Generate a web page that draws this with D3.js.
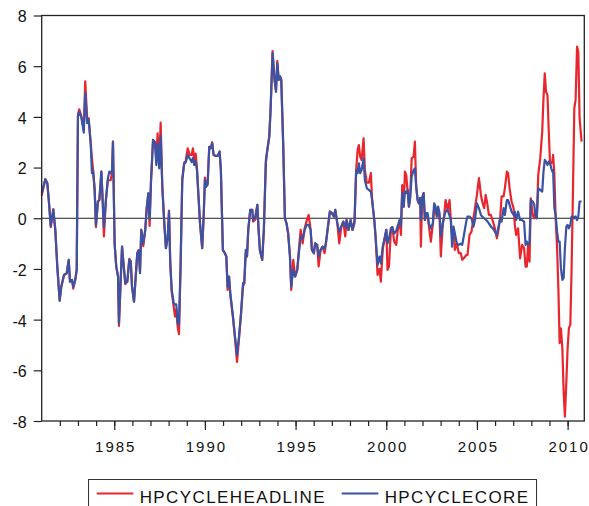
<!DOCTYPE html>
<html>
<head>
<meta charset="utf-8">
<script src="https://cdn.jsdelivr.net/npm/d3@7"></script>
<style>
  body { margin: 0; background: #fff; }
  svg { display: block; font-family: "Liberation Sans", Arial, sans-serif; }
</style>
</head>
<body>
<div id="chart"></div>
<script>
// Values: [year, value]
var headline = [
  [1981.00, 0.90], [1981.20, 1.54], [1981.31, 1.38], [1981.39, 0.72], [1981.50, -0.35], [1981.64, 0.36],
  [1981.75, -0.46], [1981.86, -1.91], [1981.99, -3.25], [1982.08, -2.70], [1982.23, -2.24], [1982.38, -2.17],
  [1982.49, -1.64], [1982.56, -2.50], [1982.67, -2.43], [1982.74, -2.78], [1982.85, -2.43], [1982.93, -2.04],
  [1983.00, 4.10], [1983.07, 4.30], [1983.18, 4.05], [1983.32, 3.50], [1983.40, 5.40], [1983.51, 3.90],
  [1983.59, 3.95], [1983.70, 3.00], [1983.77, 2.37], [1983.84, 1.85], [1983.92, 1.12], [1983.99, -0.35],
  [1984.10, 0.66], [1984.18, 0.72], [1984.29, 1.84], [1984.36, 0.72], [1984.43, -0.72], [1984.54, 0.72],
  [1984.65, 1.50], [1984.73, 1.50], [1984.80, 1.50], [1984.88, 1.80], [1984.93, 3.02], [1985.02, -0.99],
  [1985.11, -1.91], [1985.21, -2.30], [1985.26, -4.25], [1985.43, -1.12], [1985.50, -1.70], [1985.61, -2.60],
  [1985.72, -2.50], [1985.83, -1.60], [1985.91, -1.70], [1985.98, -2.70], [1986.09, -3.29], [1986.16, -2.56],
  [1986.27, -1.38], [1986.35, -1.26], [1986.42, -2.10], [1986.49, -0.46], [1986.60, -1.10], [1986.71, -0.46],
  [1986.79, 0.40], [1986.88, 0.98], [1986.95, -0.30], [1987.03, 1.51], [1987.14, 3.09], [1987.25, 3.00],
  [1987.32, 2.30], [1987.39, 3.35], [1987.48, 2.10], [1987.56, 3.77], [1987.65, 1.25], [1987.76, -0.20],
  [1987.85, -1.18], [1987.95, -0.75], [1988.02, 0.30], [1988.09, -1.78], [1988.17, -2.90], [1988.28, -3.50],
  [1988.35, -3.88], [1988.42, -3.60], [1988.50, -4.30], [1988.57, -4.57], [1988.66, -1.90], [1988.75, 1.51],
  [1988.86, 2.20], [1988.94, 2.25], [1989.05, 2.76], [1989.16, 2.50], [1989.27, 2.50], [1989.34, 2.76],
  [1989.41, 2.30], [1989.49, 2.55], [1989.56, 2.00], [1989.73, -0.20], [1989.85, -1.18], [1989.93, 0.06],
  [1990.00, 1.60], [1990.07, 1.25], [1990.15, 1.40], [1990.24, 2.82], [1990.32, 2.76], [1990.40, 3.00],
  [1990.48, 2.50], [1990.59, 2.46], [1990.70, 2.46], [1990.81, 2.63], [1990.88, 1.90], [1990.99, -1.25],
  [1991.10, -1.38], [1991.18, -1.51], [1991.25, -2.83], [1991.33, -2.30], [1991.40, -3.00], [1991.55, -3.95],
  [1991.66, -4.75], [1991.77, -5.67], [1991.88, -4.75], [1991.99, -3.80], [1992.10, -2.70], [1992.17, -2.56],
  [1992.25, -1.40], [1992.32, -1.51], [1992.39, -0.46], [1992.50, 0.33], [1992.61, 0.33], [1992.66, -0.13],
  [1992.78, -0.05], [1992.89, 0.53], [1992.96, -0.46], [1993.03, -1.25], [1993.16, -1.64], [1993.25, -0.46],
  [1993.36, 2.30], [1993.44, 2.69], [1993.55, 3.22], [1993.62, 4.27], [1993.73, 6.60], [1993.84, 5.46],
  [1993.92, 5.05], [1993.99, 6.20], [1994.07, 5.46], [1994.14, 5.60], [1994.21, 5.46], [1994.32, 2.83],
  [1994.41, 0.00], [1994.50, -0.20], [1994.59, -0.60], [1994.69, -1.51], [1994.76, -2.83], [1994.87, -1.64],
  [1994.98, -2.30], [1995.09, -2.04], [1995.20, -1.10], [1995.28, -0.46], [1995.39, -0.99], [1995.50, -0.40],
  [1995.61, -0.10], [1995.72, 0.13], [1995.83, -0.46], [1995.90, -1.25], [1996.01, -1.38], [1996.08, -0.99],
  [1996.19, -1.05], [1996.27, -1.90], [1996.38, -1.25], [1996.49, -1.12], [1996.60, -1.38], [1996.67, -0.99],
  [1996.74, -0.59], [1996.89, 0.26], [1997.00, 0.20], [1997.11, 0.07], [1997.19, 0.33], [1997.30, -0.20],
  [1997.41, -0.99], [1997.52, -0.33], [1997.63, -0.13], [1997.74, -0.72], [1997.81, -0.07], [1997.92, -0.46],
  [1998.03, -0.07], [1998.14, -0.46], [1998.25, -0.20], [1998.34, 1.90], [1998.42, 2.69], [1998.49, 2.89],
  [1998.56, 2.43], [1998.64, 2.30], [1998.75, 3.15], [1998.82, 1.90], [1998.93, 1.40], [1999.04, 1.40],
  [1999.15, 1.78], [1999.22, 0.72], [1999.34, -0.07], [1999.41, -0.72], [1999.52, -2.24], [1999.63, -2.00],
  [1999.70, -2.50], [1999.81, -1.20], [1999.93, -0.72], [2000.00, -0.46], [2000.07, -2.04], [2000.15, -1.90],
  [2000.26, -0.40], [2000.33, -0.35], [2000.44, -0.92], [2000.55, -1.05], [2000.63, -0.50], [2000.74, -0.07],
  [2000.81, -0.66], [2000.88, 1.31], [2000.96, 0.46], [2001.03, 1.84], [2001.10, 1.70], [2001.18, 1.05],
  [2001.25, 0.46], [2001.32, 0.90], [2001.40, 2.36], [2001.51, 2.43], [2001.58, 3.02], [2001.65, 1.25],
  [2001.73, 0.72], [2001.80, 0.59], [2001.87, 0.80], [2001.91, -1.12], [2001.98, 0.80], [2002.06, 0.99],
  [2002.13, -0.07], [2002.20, 0.20], [2002.28, 0.10], [2002.35, -0.30], [2002.46, -0.92], [2002.57, -0.20],
  [2002.64, 0.40], [2002.72, 0.30], [2002.79, 0.07], [2002.86, 0.30], [2002.94, 0.00], [2003.01, -1.51],
  [2003.12, -0.20], [2003.19, 0.07], [2003.27, 0.72], [2003.38, 0.33], [2003.49, 0.72], [2003.56, -0.07],
  [2003.63, -0.66], [2003.71, -0.40], [2003.78, -1.25], [2003.89, -1.00], [2004.00, -1.38], [2004.11, -1.38],
  [2004.19, -1.64], [2004.30, -1.56], [2004.41, -1.45], [2004.48, -1.45], [2004.59, -0.66], [2004.70, -0.53],
  [2004.81, 0.00], [2004.89, 0.40], [2005.00, 0.92], [2005.11, 1.58], [2005.22, 0.92], [2005.29, 0.66],
  [2005.40, 0.40], [2005.48, 0.92], [2005.55, 0.66], [2005.66, 0.13], [2005.77, 0.13], [2005.88, -0.13],
  [2005.99, -0.40], [2006.10, -0.79], [2006.17, -0.53], [2006.28, 0.00], [2006.36, 0.86], [2006.47, 0.86],
  [2006.54, 1.18], [2006.65, 1.84], [2006.72, 1.78], [2006.80, 1.18], [2006.91, 0.66], [2007.02, 0.40],
  [2007.09, -0.26], [2007.16, -0.66], [2007.27, -0.40], [2007.38, -1.58], [2007.49, -1.05], [2007.60, -1.18],
  [2007.68, -1.91], [2007.75, -1.91], [2007.82, -1.05], [2007.90, -1.71], [2007.97, 0.79], [2008.08, 0.13],
  [2008.16, 0.00], [2008.23, 0.26], [2008.30, 0.00], [2008.38, 1.71], [2008.49, 2.36], [2008.60, 3.42],
  [2008.67, 4.73], [2008.74, 5.72], [2008.81, 4.99], [2008.89, 4.86], [2008.96, 3.42], [2009.03, 2.17],
  [2009.10, 2.17], [2009.16, 2.23], [2009.20, 2.50], [2009.27, 1.71], [2009.34, 0.00], [2009.42, -1.18],
  [2009.49, -2.76], [2009.56, -4.93], [2009.63, -4.34], [2009.71, -5.13], [2009.78, -6.84], [2009.85, -7.83],
  [2009.93, -6.45], [2010.00, -5.13], [2010.07, -4.34], [2010.15, -4.20], [2010.22, -1.97], [2010.30, 1.31],
  [2010.37, 4.34], [2010.44, 4.67], [2010.52, 6.77], [2010.59, 6.57], [2010.66, 3.94], [2010.77, 3.02]
];

var core = [
  [1981.00, 1.00], [1981.20, 1.54], [1981.31, 1.38], [1981.39, 0.72], [1981.50, -0.30], [1981.64, 0.33],
  [1981.75, -0.46], [1981.86, -1.91], [1981.99, -3.25], [1982.08, -2.70], [1982.23, -2.24], [1982.38, -2.17],
  [1982.49, -1.64], [1982.56, -2.50], [1982.67, -2.43], [1982.74, -2.70], [1982.85, -2.43], [1982.93, -2.04],
  [1983.00, 4.01], [1983.07, 4.20], [1983.18, 4.00], [1983.32, 3.38], [1983.40, 4.93], [1983.51, 3.75],
  [1983.59, 3.88], [1983.70, 2.96], [1983.77, 1.78], [1983.84, 1.85], [1983.92, 1.12], [1983.99, -0.27],
  [1984.10, 0.66], [1984.18, 0.72], [1984.29, 1.84], [1984.36, 0.72], [1984.43, -0.35], [1984.54, 0.72],
  [1984.65, 1.58], [1984.73, 1.84], [1984.80, 1.78], [1984.88, 1.90], [1984.93, 3.02], [1985.02, -0.99],
  [1985.11, -1.91], [1985.21, -2.30], [1985.26, -4.14], [1985.43, -1.12], [1985.50, -1.70], [1985.61, -2.56],
  [1985.72, -2.50], [1985.83, -1.64], [1985.91, -1.70], [1985.98, -2.70], [1986.09, -3.29], [1986.16, -2.56],
  [1986.27, -1.38], [1986.35, -1.26], [1986.42, -2.17], [1986.49, -0.46], [1986.60, -0.99], [1986.71, -0.46],
  [1986.79, 0.40], [1986.88, 0.98], [1986.95, -0.05], [1987.03, 1.51], [1987.14, 3.09], [1987.25, 2.95],
  [1987.32, 2.10], [1987.39, 2.95], [1987.48, 1.97], [1987.56, 3.25], [1987.65, 1.25], [1987.76, -0.20],
  [1987.85, -1.18], [1987.95, -0.75], [1988.02, 0.26], [1988.09, -1.78], [1988.17, -2.83], [1988.28, -3.35],
  [1988.35, -3.40], [1988.42, -3.40], [1988.50, -4.14], [1988.57, -4.20], [1988.66, -1.78], [1988.75, 1.51],
  [1988.86, 2.17], [1988.94, 2.20], [1989.05, 2.50], [1989.16, 2.36], [1989.27, 2.22], [1989.34, 2.38],
  [1989.41, 2.10], [1989.49, 2.24], [1989.56, 1.90], [1989.73, -0.20], [1989.85, -1.18], [1989.93, 0.06],
  [1990.00, 1.51], [1990.07, 1.25], [1990.15, 1.32], [1990.24, 2.82], [1990.32, 2.76], [1990.40, 2.96],
  [1990.48, 2.50], [1990.59, 2.46], [1990.70, 2.46], [1990.81, 2.63], [1990.88, 1.90], [1990.99, -1.25],
  [1991.10, -1.38], [1991.18, -1.51], [1991.25, -2.70], [1991.33, -2.30], [1991.40, -2.96], [1991.55, -3.88],
  [1991.66, -4.67], [1991.77, -5.39], [1991.88, -4.67], [1991.99, -3.75], [1992.10, -2.56], [1992.17, -2.56],
  [1992.25, -1.25], [1992.32, -1.51], [1992.39, -0.46], [1992.50, 0.33], [1992.61, 0.33], [1992.66, -0.07],
  [1992.78, 0.07], [1992.89, 0.53], [1992.96, -0.46], [1993.03, -1.25], [1993.16, -1.64], [1993.25, -0.46],
  [1993.36, 2.17], [1993.44, 2.69], [1993.55, 3.22], [1993.62, 4.27], [1993.73, 6.51], [1993.84, 5.46],
  [1993.92, 4.99], [1993.99, 6.11], [1994.07, 5.46], [1994.14, 5.60], [1994.21, 5.46], [1994.32, 2.83],
  [1994.41, 0.00], [1994.50, -0.20], [1994.59, -0.60], [1994.69, -1.51], [1994.76, -2.70], [1994.87, -2.04],
  [1994.98, -2.30], [1995.09, -2.04], [1995.20, -1.25], [1995.28, -0.72], [1995.39, -0.79], [1995.50, -0.46],
  [1995.61, -0.26], [1995.72, -0.26], [1995.83, -0.46], [1995.90, -1.25], [1996.01, -1.38], [1996.08, -0.99],
  [1996.19, -1.05], [1996.27, -1.51], [1996.38, -1.25], [1996.49, -1.12], [1996.60, -1.20], [1996.67, -0.99],
  [1996.74, -0.59], [1996.89, 0.26], [1997.00, 0.20], [1997.11, 0.07], [1997.19, 0.33], [1997.30, -0.20],
  [1997.41, -0.53], [1997.52, -0.33], [1997.63, -0.13], [1997.74, -0.33], [1997.81, -0.07], [1997.92, -0.46],
  [1998.03, -0.07], [1998.14, -0.46], [1998.25, -0.07], [1998.34, 1.90], [1998.42, 1.78], [1998.49, 2.17],
  [1998.56, 1.78], [1998.64, 1.90], [1998.75, 2.36], [1998.82, 1.50], [1998.93, 1.18], [1999.04, 1.12],
  [1999.15, 1.05], [1999.22, 0.72], [1999.34, -0.07], [1999.41, -0.72], [1999.52, -1.84], [1999.63, -1.51],
  [1999.70, -1.78], [1999.81, -1.10], [1999.93, -0.72], [2000.00, -0.46], [2000.07, -0.99], [2000.15, -0.80],
  [2000.26, -0.40], [2000.33, -0.35], [2000.44, -0.60], [2000.55, -0.50], [2000.63, -0.30], [2000.74, -0.07],
  [2000.81, -0.30], [2000.88, 0.99], [2000.96, 0.46], [2001.03, 1.05], [2001.10, 1.00], [2001.18, 1.12],
  [2001.25, 0.46], [2001.32, 0.80], [2001.40, 1.64], [2001.51, 1.90], [2001.58, 1.97], [2001.65, 1.25],
  [2001.73, 0.72], [2001.80, 0.59], [2001.87, 0.80], [2001.91, -0.07], [2001.98, 0.80], [2002.06, 0.99],
  [2002.13, -0.07], [2002.20, 0.20], [2002.28, 0.20], [2002.35, -0.20], [2002.46, -0.40], [2002.57, -0.20],
  [2002.64, 0.59], [2002.72, 0.46], [2002.79, 0.07], [2002.86, 0.46], [2002.94, 0.20], [2003.01, -0.72],
  [2003.12, -0.20], [2003.19, 0.07], [2003.27, 0.26], [2003.38, 0.33], [2003.49, 0.10], [2003.56, -0.07],
  [2003.63, -1.12], [2003.71, -0.33], [2003.78, -0.59], [2003.89, -0.99], [2004.00, -1.05], [2004.11, -1.00],
  [2004.19, -1.05], [2004.30, -0.59], [2004.41, -0.13], [2004.48, 0.07], [2004.59, 0.07], [2004.70, 0.00],
  [2004.81, -0.33], [2004.89, -0.07], [2005.00, 0.59], [2005.11, 0.40], [2005.22, 0.13], [2005.29, 0.07],
  [2005.40, 0.00], [2005.48, -0.05], [2005.55, -0.10], [2005.66, -0.20], [2005.77, -0.33], [2005.88, -0.40],
  [2005.99, -0.53], [2006.10, -0.66], [2006.17, -0.40], [2006.28, 0.00], [2006.36, -0.13], [2006.47, 0.40],
  [2006.54, 0.13], [2006.65, 0.72], [2006.72, 0.72], [2006.80, 0.53], [2006.91, 0.26], [2007.02, 0.13],
  [2007.09, 0.26], [2007.16, -0.07], [2007.27, 0.26], [2007.38, -0.07], [2007.49, -0.07], [2007.60, -0.13],
  [2007.68, -1.05], [2007.75, -0.92], [2007.82, -1.05], [2007.90, -0.92], [2007.97, 0.72], [2008.08, 0.66],
  [2008.16, 0.53], [2008.23, 0.13], [2008.30, 0.00], [2008.38, 1.18], [2008.49, 1.12], [2008.60, 1.05],
  [2008.67, 1.84], [2008.74, 2.30], [2008.81, 2.23], [2008.89, 2.10], [2008.96, 2.23], [2009.03, 2.17],
  [2009.10, 1.97], [2009.16, 1.84], [2009.20, 1.90], [2009.27, 0.40], [2009.34, 0.13], [2009.42, -0.53],
  [2009.49, -0.92], [2009.56, -0.92], [2009.63, -1.97], [2009.71, -2.43], [2009.78, -2.36], [2009.85, -1.18],
  [2009.93, -0.33], [2010.00, -0.26], [2010.07, -0.40], [2010.15, -0.26], [2010.22, 0.07], [2010.30, 0.07],
  [2010.37, 0.00], [2010.44, 0.07], [2010.52, -0.07], [2010.59, 0.07], [2010.66, 0.66], [2010.77, 0.66]
];

var seriesNames = ["HPCYCLEHEADLINE", "HPCYCLECORE"];
var yTicks = [-8, -6, -4, -2, 0, 2, 4, 6, 8];
var xMajorTicks = [1985, 1990, 1995, 2000, 2005, 2010];
var xMinorTicks = d3.range(1982, 2011);
var xDomain = [1981, 2010.92];

var colors = ["#e8262d", "#3a53a4"];

var width = 589, height = 506;
var margin = {top: 15.5, right: 4.7, bottom: 85, left: 41.7};
var plotW = width - margin.left - margin.right;
var plotH = height - margin.top - margin.bottom;

var svg = d3.select("#chart").append("svg")
    .attr("width", width)
    .attr("height", height);

var g = svg.append("g")
    .attr("transform", "translate(" + margin.left + "," + margin.top + ")");

var x = d3.scaleLinear().domain(xDomain).range([0, plotW]);
var y = d3.scaleLinear().domain([-8, 8]).range([plotH, 0]);

// zero line
g.append("line")
    .attr("x1", 0).attr("x2", plotW)
    .attr("y1", y(0)).attr("y2", y(0))
    .attr("stroke", "#222").attr("stroke-width", 1.2);

// series, headline first so core sits on top
var line = d3.line()
    .x(function(d) { return x(d[0]); })
    .y(function(d) { return y(d[1]); });

[headline, core].forEach(function(data, i) {
    g.append("path")
        .datum(data)
        .attr("fill", "none")
        .attr("stroke", colors[i])
        .attr("stroke-width", 2.2)
        .attr("stroke-linejoin", "round")
        .attr("d", line);
});

// frame
g.append("rect")
    .attr("width", plotW).attr("height", plotH)
    .attr("fill", "none").attr("stroke", "#222").attr("stroke-width", 1.3);

// Y axis
var yAxis = g.append("g")
    .call(d3.axisLeft(y).tickValues(yTicks).tickSize(8).tickPadding(7).tickFormat(d3.format("d")));
yAxis.select(".domain").remove();
yAxis.selectAll("line").attr("stroke", "#222").attr("stroke-width", 1.2);
yAxis.selectAll("text")
    .attr("font-size", 16)
    .attr("fill", "#111")
    .attr("dy", "0.40em")
    .text(function(d) { return d < 0 ? "-" + Math.abs(d) : d; });

// X axis, minor ticks then major ticks with labels
var xMinor = g.append("g")
    .attr("transform", "translate(0," + plotH + ")")
    .call(d3.axisBottom(x).tickValues(xMinorTicks).tickSize(5).tickFormat(""));
xMinor.select(".domain").remove();
xMinor.selectAll("line").attr("stroke", "#222").attr("stroke-width", 1.2);

var xAxis = g.append("g")
    .attr("transform", "translate(0," + plotH + ")")
    .call(d3.axisBottom(x).tickValues(xMajorTicks).tickSize(9).tickPadding(11).tickFormat(d3.format("d")));
xAxis.select(".domain").remove();
xAxis.selectAll("line").attr("stroke", "#222").attr("stroke-width", 1.2);
xAxis.selectAll("text")
    .attr("font-size", 15)
    .attr("fill", "#111")
    .attr("letter-spacing", 2)
    .attr("dx", 1);

// Legend
var legend = svg.append("g");
legend.append("rect")
    .attr("x", 88.5).attr("y", 479.5)
    .attr("width", 448).attr("height", 40)
    .attr("fill", "#fff").attr("stroke", "#333").attr("stroke-width", 1);

var legendX = [96.7, 341.7];
seriesNames.forEach(function(name, i) {
    legend.append("line")
        .attr("x1", legendX[i]).attr("x2", legendX[i] + 36.6)
        .attr("y1", 493.5).attr("y2", 493.5)
        .attr("stroke", colors[i]).attr("stroke-width", 2);
    legend.append("text")
        .attr("x", legendX[i] + 43)
        .attr("y", 502.5)
        .attr("font-size", 17)
        .attr("letter-spacing", 1.4)
        .attr("fill", "#111")
        .text(name);
});
</script>
</body>
</html>
